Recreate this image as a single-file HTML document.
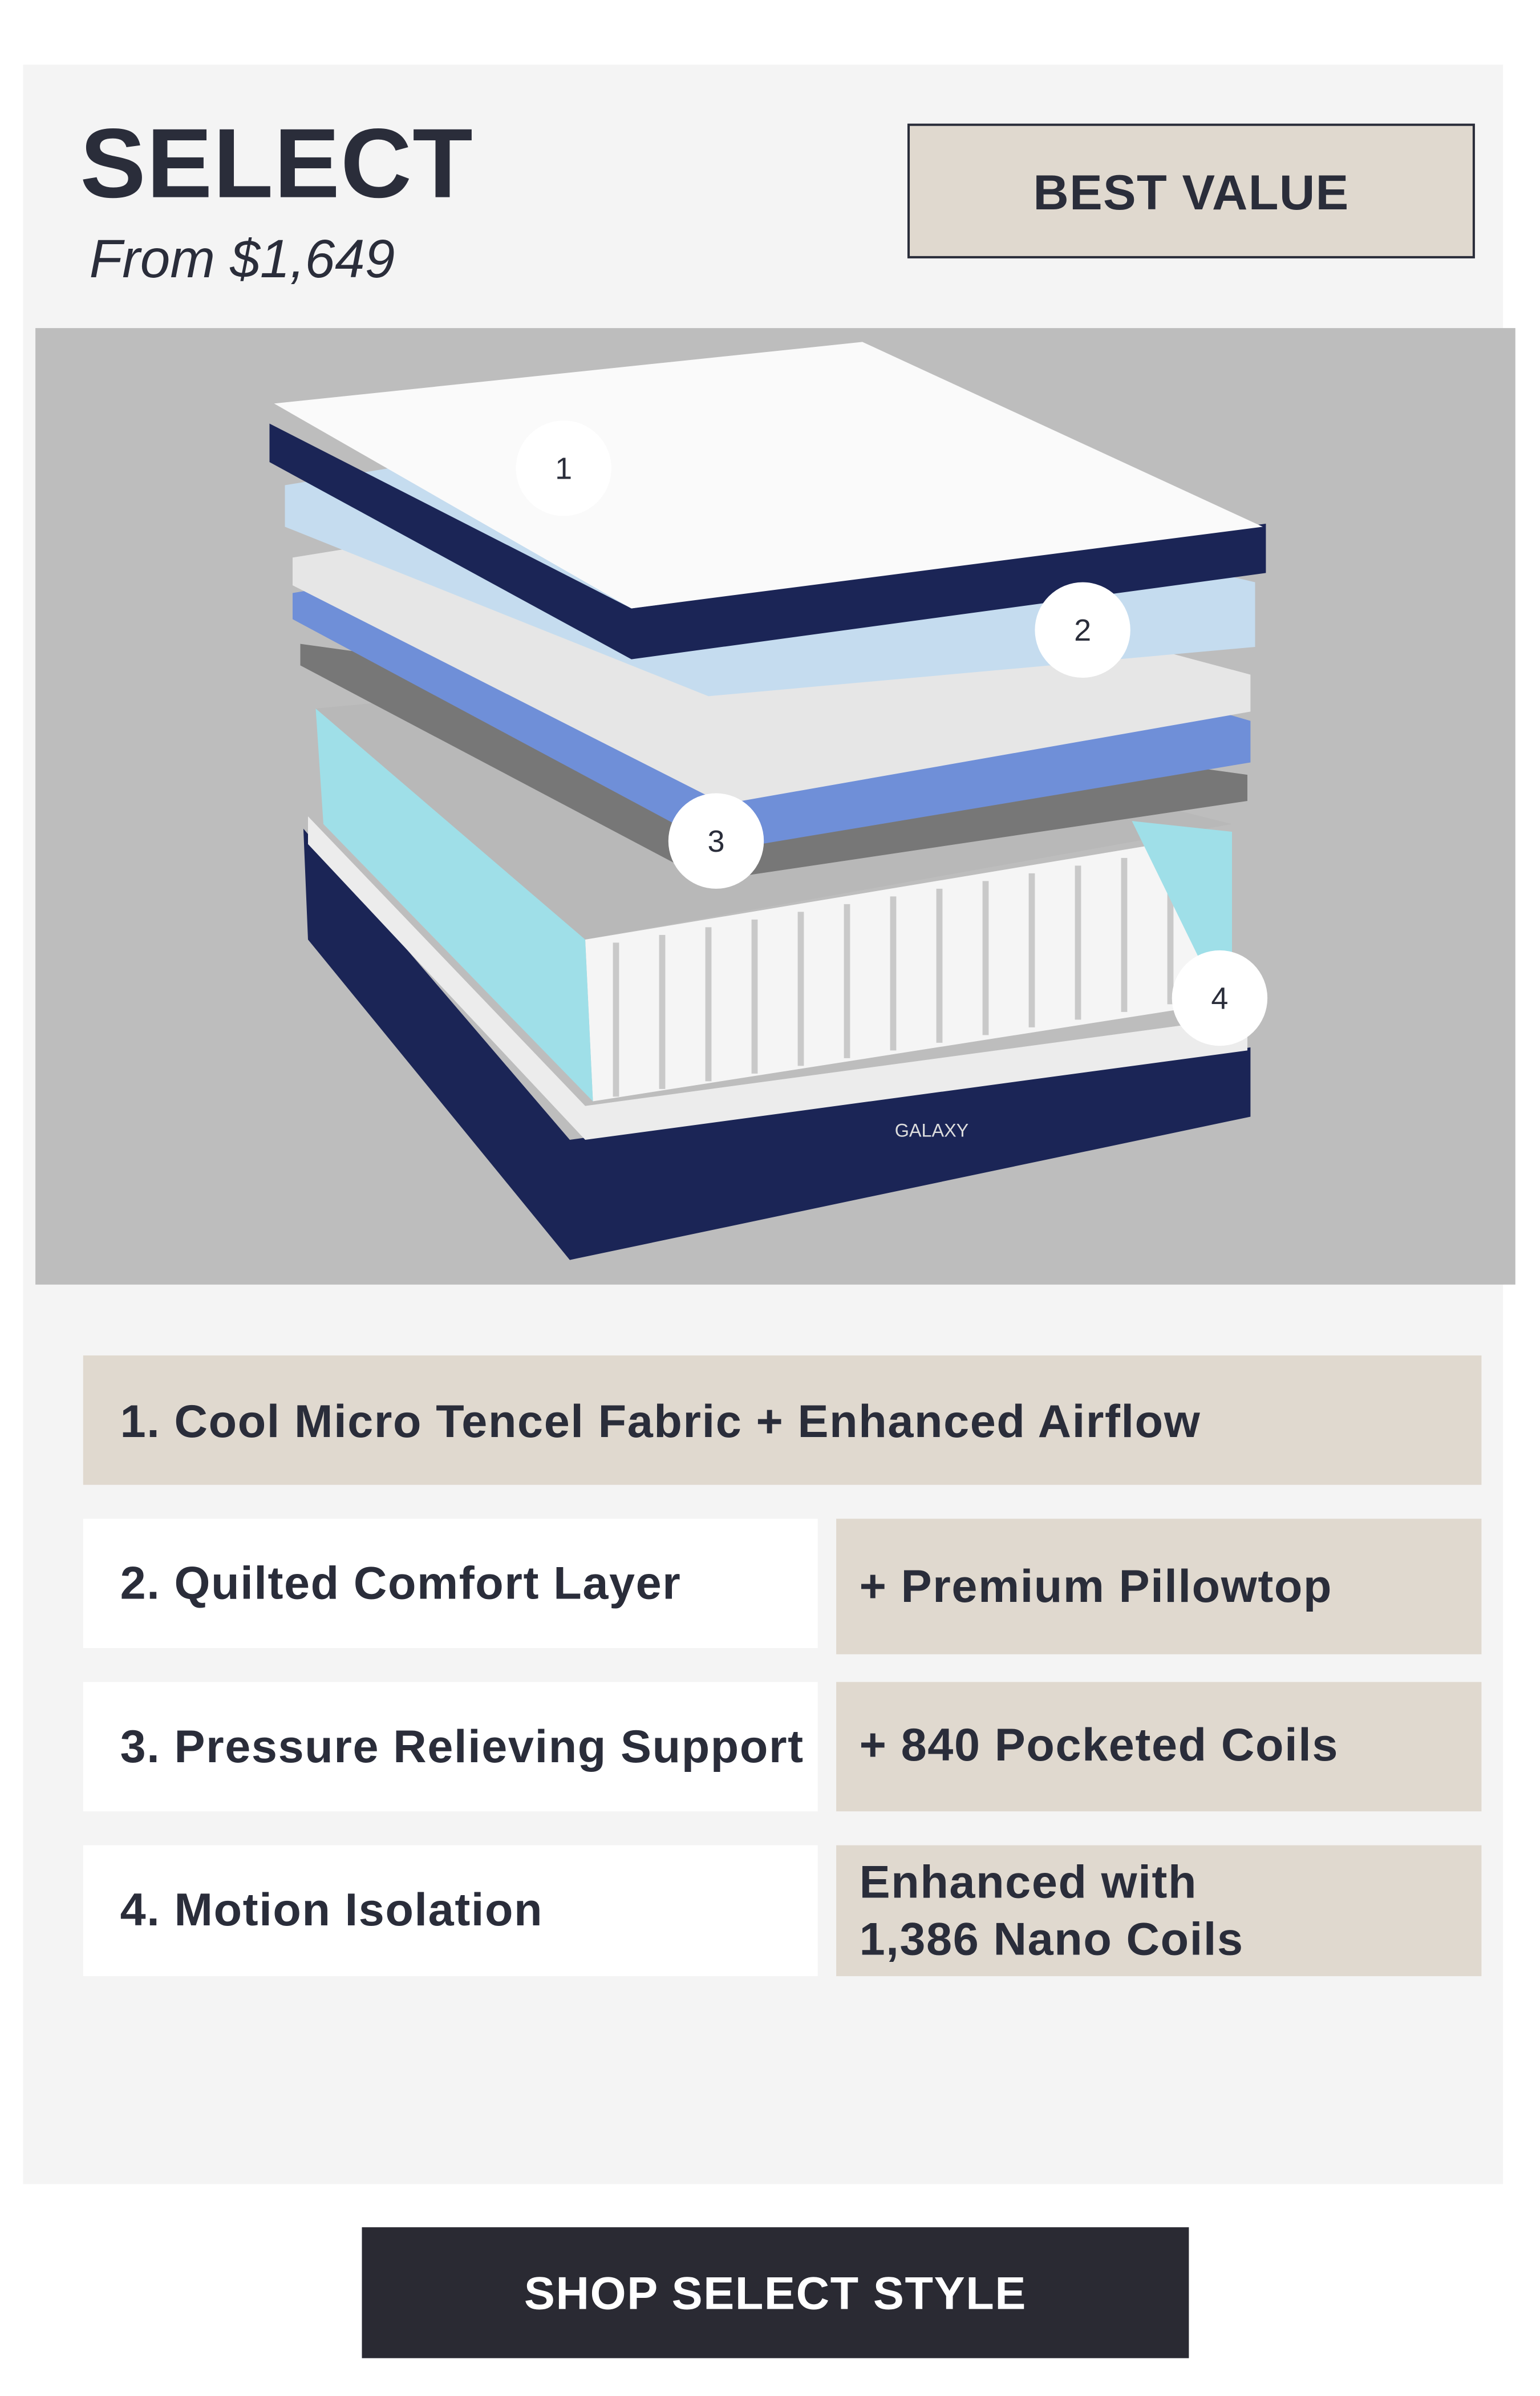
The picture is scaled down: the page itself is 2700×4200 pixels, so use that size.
<!DOCTYPE html>
<html><head><meta charset="utf-8"><style>
html,body{margin:0;padding:0;background:#fff;width:2700px;height:4200px;overflow:hidden}
svg{display:block}
text{font-family:"Liberation Sans",sans-serif}
</style></head><body>
<svg width="2700" height="4200" viewBox="0 0 1000 1555.56" xmlns="http://www.w3.org/2000/svg">
<rect x="0" y="0" width="1000" height="1556" fill="#fff"/>
<rect x="15" y="42" width="961" height="1376" fill="#f4f4f4"/>
<text x="52" y="128" font-size="64" font-weight="bold" fill="#2a2d3a" letter-spacing="0.5">SELECT</text>
<text x="58" y="180" font-size="35" font-style="italic" fill="#2a2d3a">From $1,649</text>
<rect x="590" y="81" width="367" height="86" fill="#e0d9cf" stroke="#2a2d3a" stroke-width="1.5"/>
<text x="773.5" y="136" font-size="32" font-weight="bold" fill="#2a2d3a" text-anchor="middle" letter-spacing="0.5">BEST VALUE</text>
<rect x="23" y="213" width="961" height="621" fill="#bdbdbd"/>
<!-- mattress -->
<polygon points="197,538 370,740 812,680 812,725 370,818 200,610" fill="#1b2556"/>
<polygon points="200,530 380,718 810,660 810,682 380,740 200,548" fill="#ececec"/>
<polygon points="205,460 420,440 800,535 380,610" fill="#b8b8b8"/>
<polygon points="380,610 800,540 800,650 385,715" fill="#f5f5f5"/>
<g stroke="#c9c9c9" stroke-width="4">
<line x1="400" y1="612" x2="400" y2="712"/><line x1="430" y1="607" x2="430" y2="707"/><line x1="460" y1="602" x2="460" y2="702"/><line x1="490" y1="597" x2="490" y2="697"/><line x1="520" y1="592" x2="520" y2="692"/><line x1="550" y1="587" x2="550" y2="687"/><line x1="580" y1="582" x2="580" y2="682"/><line x1="610" y1="577" x2="610" y2="677"/><line x1="640" y1="572" x2="640" y2="672"/><line x1="670" y1="567" x2="670" y2="667"/><line x1="700" y1="562" x2="700" y2="662"/><line x1="730" y1="557" x2="730" y2="657"/><line x1="760" y1="552" x2="760" y2="652"/>
</g>
<polygon points="205,460 380,610 385,715 210,535" fill="#9fdfe8"/>
<polygon points="735,533 800,540 800,620 780,625" fill="#9fdfe8"/>
<polygon points="195,418 810,503 810,520 460,572 195,432" fill="#777"/>
<polygon points="190,385 400,350 812,468 812,495 470,552 190,402" fill="#6f8fd8"/>
<polygon points="190,362 400,328 812,438 812,462 470,522 190,380" fill="#e6e6e6"/>
<polygon points="185,315 400,280 815,378 815,420 460,452 185,342" fill="#c5dcef"/>
<polygon points="175,275 410,395 822,340 822,372 410,428 175,300" fill="#1b2556"/>
<polygon points="178,262 560,222 820,342 410,395" fill="#fafafa"/>
<g font-size="20" fill="#2a2d3a" text-anchor="middle">
<circle cx="366" cy="304" r="31" fill="#fff"/><text x="366" y="311">1</text>
<circle cx="703" cy="409" r="31" fill="#fff"/><text x="703" y="416">2</text>
<circle cx="465" cy="546" r="31" fill="#fff"/><text x="465" y="553">3</text>
<circle cx="792" cy="648" r="31" fill="#fff"/><text x="792" y="655">4</text>
</g>
<text x="605" y="738" font-size="12" fill="#ddd" text-anchor="middle" font-family="Liberation Serif">GALAXY</text>
<!-- rows -->
<g font-size="30" font-weight="bold" fill="#2a2d3a" letter-spacing="0.6">
<rect x="54" y="880" width="908" height="84" fill="#e0d9cf"/>
<text x="78" y="933">1. Cool Micro Tencel Fabric + Enhanced Airflow</text>
<rect x="54" y="986" width="477" height="84" fill="#fff"/>
<rect x="543" y="986" width="419" height="88" fill="#e0d9cf"/>
<text x="78" y="1038">2. Quilted Comfort Layer</text>
<text x="558" y="1040">+ Premium Pillowtop</text>
<rect x="54" y="1092" width="477" height="84" fill="#fff"/>
<rect x="543" y="1092" width="419" height="84" fill="#e0d9cf"/>
<text x="78" y="1144">3. Pressure Relieving Support</text>
<text x="558" y="1143">+ 840 Pocketed Coils</text>
<rect x="54" y="1198" width="477" height="85" fill="#fff"/>
<rect x="543" y="1198" width="419" height="85" fill="#e0d9cf"/>
<text x="78" y="1250">4. Motion Isolation</text>
<text x="558" y="1232">Enhanced with</text>
<text x="558" y="1269">1,386 Nano Coils</text>
</g>
<rect x="235" y="1446" width="537" height="85" fill="#2a2a33"/>
<text x="503.5" y="1499" font-size="30" font-weight="bold" fill="#fff" text-anchor="middle" letter-spacing="0.6">SHOP SELECT STYLE</text>
</svg>
</body></html>
